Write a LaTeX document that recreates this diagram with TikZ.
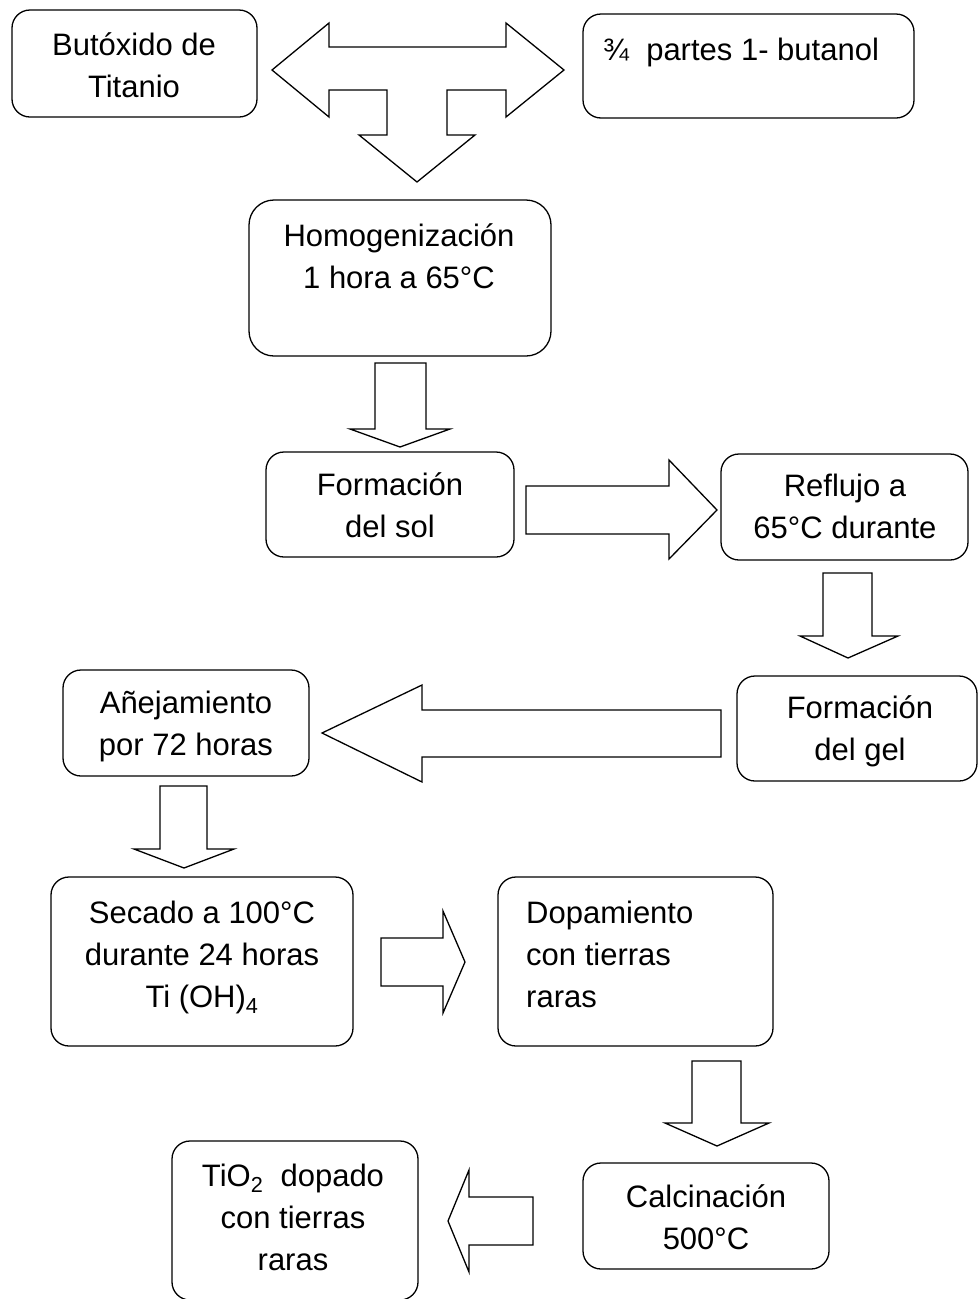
\documentclass[tikz,border=0pt]{standalone}
\usepackage{fontspec}
\setmainfont{Liberation Sans}
\tikzset{
    caja/.style={draw, line width=1.3pt, rounded corners=18pt, inner sep=0pt, outer sep=0pt},
    texto/.style={inner sep=0pt, align=center, font=\fontsize{31}{42}\selectfont},
    flecha/.style={draw, line width=1.3pt, line join=miter, fill=white}
}
\begin{document}
\begin{tikzpicture}[x=1pt, y=-1pt]
    \useasboundingbox (0,0) rectangle (978,1299);

    % cajas
    \node[caja, minimum width=245pt, minimum height=107pt] (but) at (134.5,63.5) {};
    \node[caja, minimum width=331pt, minimum height=104pt] (partes) at (748.5,66) {};
    \node[caja, rounded corners=25pt, minimum width=302pt, minimum height=156pt] (homog) at (400,278) {};
    \node[caja, minimum width=248pt, minimum height=105pt] (sol) at (390,504.5) {};
    \node[caja, minimum width=247pt, minimum height=106pt] (reflujo) at (844.5,507) {};
    \node[caja, minimum width=240pt, minimum height=105pt] (gel) at (857,728.5) {};
    \node[caja, minimum width=246pt, minimum height=106pt] (anej) at (186,723) {};
    \node[caja, minimum width=302pt, minimum height=169pt] (secado) at (202,961.5) {};
    \node[caja, minimum width=275pt, minimum height=169pt] (dopa) at (635.5,961.5) {};
    \node[caja, minimum width=246pt, minimum height=106pt] (calc) at (706,1216) {};
    \node[caja, minimum width=246pt, minimum height=159pt] (tio) at (295,1220.5) {};

    % textos (base = ultima linea)
    \node[texto, anchor=base] (butT) at (134,97) {Butóxido de\\Titanio};
    \node[texto, anchor=base west] (partesT) at (603,60) {¾\ \ partes 1- butanol};
    \node[texto, anchor=base] (homogT) at (399,288) {Homogenización\\1 hora a 65°C};
    \node[texto, anchor=base] (solT) at (390,537) {Formación\\del sol};
    \node[texto, anchor=base] (reflujoT) at (845,538) {Reflujo a\\65°C durante};
    \node[texto, anchor=base] (gelT) at (860,760) {Formación\\del gel};
    \node[texto, anchor=base] (anejT) at (186,755) {Añejamiento\\por 72 horas};
    \node[texto, anchor=base] (secadoT) at (202,1007) {Secado a 100°C\\durante 24 horas\\Ti (OH)\textsubscript{4}};
    \node[texto, anchor=base west, align=left] (dopaT) at (526,1007) {Dopamiento\\con tierras\\raras};
    \node[texto, anchor=base] (calcT) at (706,1249) {Calcinación\\500°C};
    \node[texto, anchor=base] (tioT) at (293,1270) {TiO\textsubscript{2}\ \ dopado\\con tierras\\raras};

    % flechas de bloque
    \draw[flecha] (272,70) -- (329,23) -- (329,47) -- (506,47) -- (506,23) -- (564,70) -- (506,117)
        -- (506,90) -- (447,90) -- (447,135) -- (475,135) -- (417,182) -- (359,135) -- (387,135)
        -- (387,90) -- (329,90) -- (329,117) -- cycle;
    \draw[flecha] (375,363) -- (426,363) -- (426,429) -- (450,429) -- (400,447) -- (350,429) -- (375,429) -- cycle;
    \draw[flecha] (526,486) -- (669,486) -- (669,460) -- (717,510) -- (669,559) -- (669,534) -- (526,534) -- cycle;
    \draw[flecha] (823,573) -- (872,573) -- (872,636) -- (898,636) -- (848,658) -- (800,636) -- (823,636) -- cycle;
    \draw[flecha] (721,710) -- (422,710) -- (422,685) -- (322,733) -- (422,782) -- (422,757) -- (721,757) -- cycle;
    \draw[flecha] (160,786) -- (207,786) -- (207,849) -- (234,849) -- (184,868) -- (134,849) -- (160,849) -- cycle;
    \draw[flecha] (381,938) -- (443,938) -- (443,911) -- (465,962) -- (443,1013) -- (443,986) -- (381,986) -- cycle;
    \draw[flecha] (692,1061) -- (741,1061) -- (741,1123) -- (769,1123) -- (717,1146) -- (665,1123) -- (692,1123) -- cycle;
    \draw[flecha] (533,1197) -- (469,1197) -- (469,1170) -- (448,1221) -- (469,1272) -- (469,1245) -- (533,1245) -- cycle;
\end{tikzpicture}
\end{document}
